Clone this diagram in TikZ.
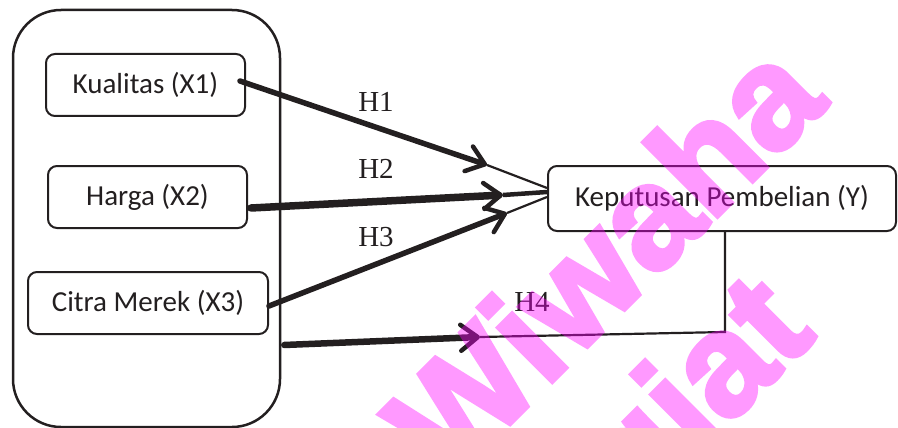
\documentclass[tikz,border=0pt]{standalone}
\usepackage{fontspec}
\setmainfont{Liberation Serif}
\newfontfamily\boxfont{Carlito}
\newfontfamily\wmfont[BoldFeatures={FakeBold=3}]{Liberation Sans}
\usetikzlibrary{arrows.meta}
\definecolor{ink}{HTML}{231F20}
\definecolor{wmpink}{RGB}{255,0,255}
\begin{document}
\begin{tikzpicture}[x=1pt,y=-1pt,
  box/.style={draw=ink, line width=2pt, rounded corners=9pt, text=ink,
    font=\boxfont\fontsize{29}{31}\selectfont, inner sep=0pt, minimum height=62pt},
  grpbox/.style={draw=ink, line width=2.5pt, rounded corners=48pt, inner sep=0pt},
  lbl/.style={text=ink, font=\fontsize{29}{31}\selectfont, inner sep=0pt},
  thickarr/.style={draw=ink, line width=5.5pt, line cap=round,
    -{Straight Barb[length=17pt,width=26pt,line width=4.5pt,round]}},
  thinline/.style={draw=ink, line width=2.2pt},
  wm/.style={text=wmpink, font=\wmfont\bfseries\fontsize{145}{155}\selectfont,
    inner sep=0pt}]
\useasboundingbox (0,0) rectangle (898,428);

% outer group
\node[grpbox, minimum width=267pt, minimum height=417pt] (grp) at (146.5,218.5) {};

% boxes
\node[box, minimum width=199pt] (kq) at (145.5,85) {Kualitas (X1)};
\node[box, minimum width=199pt] (hg) at (147.5,197) {Harga (X2)};
\node[box, minimum width=240pt] (cm) at (148,303) {Citra Merek (X3)};
\node[box, minimum width=348pt, minimum height=65pt] (kp) at (722,198.5) {Keputusan Pembelian (Y)};

% arrow tips and bends
\coordinate (t1) at (487,165);
\coordinate (t2) at (503,195);
\coordinate (t3) at (507,213);
\coordinate (t4) at (480,337);
\coordinate (c4) at (725,332);

% H1
\draw[thickarr] ([xshift=-6pt,yshift=4pt]kq.east) -- (t1);
\draw[thinline] (t1) -- ([yshift=10.5pt]kp.west);
% H2
\draw[thickarr, line width=7.5pt] ([xshift=3pt,yshift=-11pt]hg.east) -- (t2);
\draw[draw=ink, line width=4.5pt] (t2) -- ([yshift=6.5pt]kp.west);
% H3
\draw[thickarr] ([yshift=-3pt]cm.east) -- (t3);
\draw[thinline] (t3) -- ([yshift=1.5pt]kp.west);
% H4
\draw[thickarr, line width=6.5pt] ([xshift=3pt,yshift=-126.5pt]grp.east) -- (t4);
\draw[thinline] (t4) -- (c4) -- (c4 |- kp.south);

% labels
\node[lbl] (h1) at (376,102) {H1};
\node[lbl] (h2) at (376,169) {H2};
\node[lbl] (h3) at (376,237) {H3};
\node[lbl] (h4) at (532,302) {H4};

% watermark
\begin{scope}[transparency group, opacity=0.4]
\clip (0,0) rectangle (898,428);
\node[wm, rotate=45, anchor=base east] (wm1) at (830,104) {Wiwaha};
\node[wm, rotate=45, anchor=base east] (wm2) at (818,336) {Plagiat};
\end{scope}
\end{tikzpicture}
\end{document}
